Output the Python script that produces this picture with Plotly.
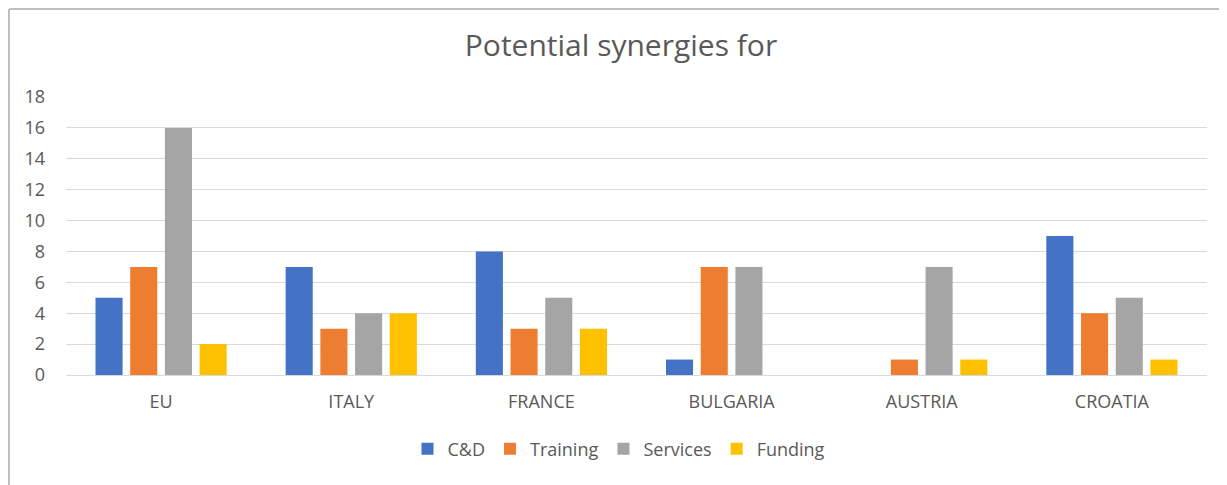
import plotly.graph_objects as go

categories = ["EU", "ITALY", "FRANCE", "BULGARIA", "AUSTRIA", "CROATIA"]
cd = [5, 7, 8, 1, 0, 9]
training = [7, 3, 3, 7, 1, 4]
services = [16, 4, 5, 7, 7, 5]
funding = [2, 4, 3, 0, 1, 1]
y_ticks = [0, 2, 4, 6, 8, 10, 12, 14, 16, 18]

series = [
    ("C&D", cd, "#4472C4"),
    ("Training", training, "#ED7D31"),
    ("Services", services, "#A5A5A5"),
    ("Funding", funding, "#FFC000"),
]

fig = go.Figure()
for name, vals, color in series:
    fig.add_trace(go.Bar(x=categories, y=vals, name=name, marker_color=color,
                         marker_line_width=0))

# page body has an 8px default margin, so the figure is sized to fit the window
W, H = 1219, 477
L, R, T, B = 58, 20, 89, 110
pw, ph = W - L - R, H - T - B

font_family = "Open Sans, Liberation Sans, sans-serif"
fig.update_layout(
    width=W, height=H,
    margin=dict(l=L, r=R, t=T, b=B, autoexpand=False),
    paper_bgcolor="white", plot_bgcolor="white",
    barmode="group", bargap=0.27, bargroupgap=0.22,
    title=dict(text="Potential synergies for", x=613 / W, xanchor="center",
               xref="container", yref="container", y=1 - 37 / H, yanchor="middle",
               font=dict(family=font_family, size=30, color="#595959")),
    font=dict(family=font_family, size=18, color="#595959"),
    xaxis=dict(showgrid=False, showline=False, ticks="", automargin=False,
               ticklabelstandoff=14, tickfont=dict(size=18)),
    yaxis=dict(range=[0, 18], tickvals=y_ticks, showgrid=True, gridcolor="#D9D9D9",
               gridwidth=1, zeroline=True, zerolinecolor="#D9D9D9", zerolinewidth=1,
               ticks="", automargin=False, ticklabelstandoff=20, tickfont=dict(size=18)),
    legend=dict(orientation="h", x=611 / W, xanchor="center", xref="container",
                yref="container", y=1 - 441 / H, yanchor="middle",
                font=dict(size=18, color="#595959"), itemwidth=30,
                traceorder="normal"),
    shapes=[
        dict(type="line", xref="paper", yref="paper", x0=-(L - 1) / pw, x1=1.1,
             y0=1 + (T - 1) / ph, y1=1 + (T - 1) / ph,
             line=dict(color="#BFBFBF", width=2)),
        dict(type="line", xref="paper", yref="paper", x0=-(L - 1) / pw, x1=-(L - 1) / pw,
             y0=-0.5, y1=1 + (T - 1) / ph,
             line=dict(color="#BFBFBF", width=2)),
    ],
)

fig.write_html("out.html")
